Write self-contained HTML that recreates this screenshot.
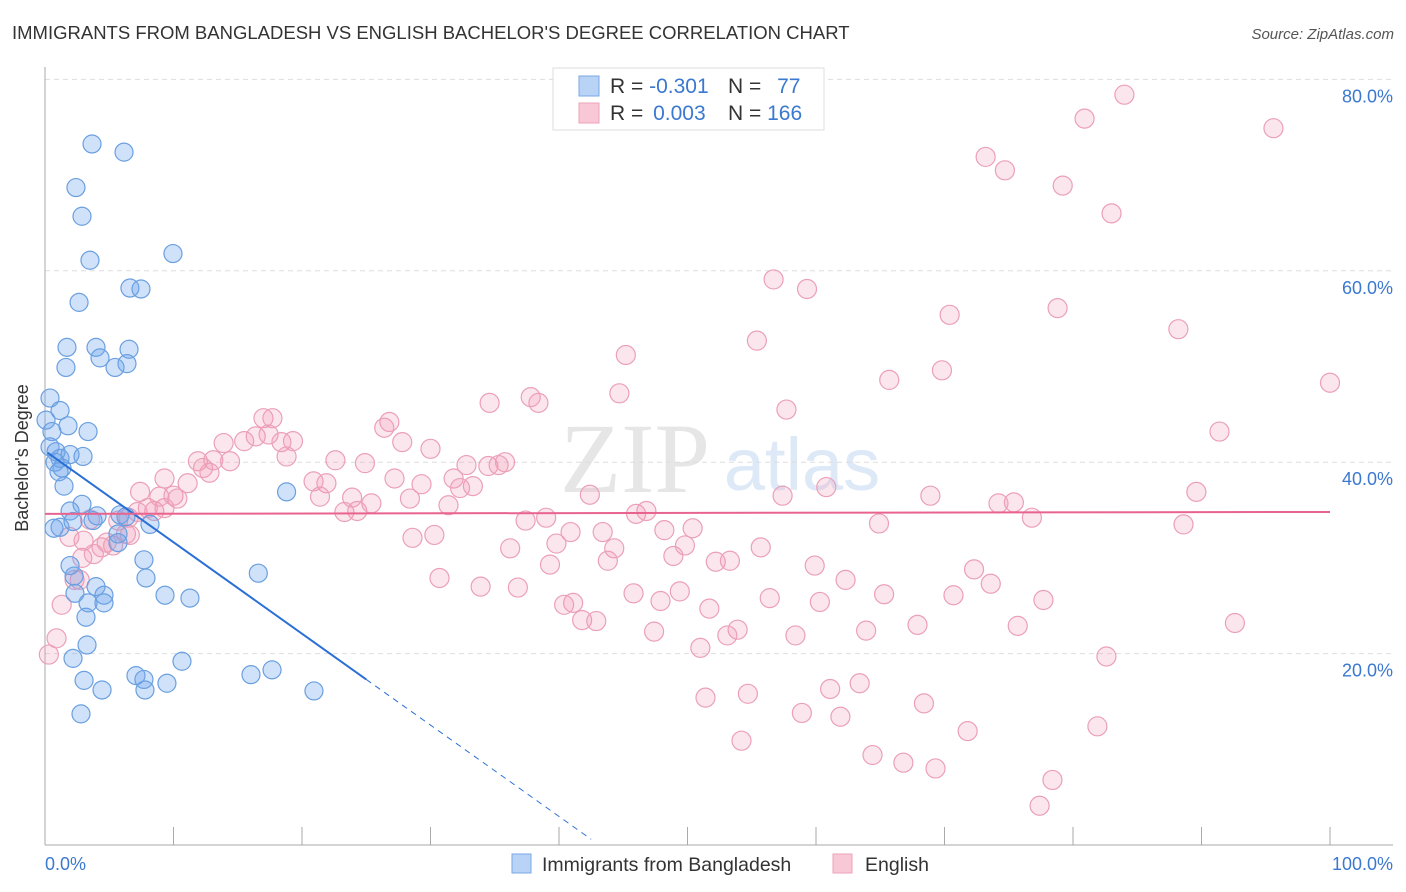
<!DOCTYPE html>
<html><head><meta charset="utf-8">
<style>
body{margin:0;background:#fff;font-family:"Liberation Sans",sans-serif;}
#wrap{position:relative;width:1406px;height:892px;overflow:hidden;}
</style></head>
<body>
<div id="wrap">
<svg id="svg" width="1406" height="892" xmlns="http://www.w3.org/2000/svg">
<text x="12" y="39" font-size="18.5" fill="#333">IMMIGRANTS FROM BANGLADESH VS ENGLISH BACHELOR'S DEGREE CORRELATION CHART</text>
<text x="1394" y="39" font-size="15" fill="#555" font-style="italic" text-anchor="end">Source: ZipAtlas.com</text>
<text x="635" y="492" font-size="100" fill="#e6e6e6" font-family="Liberation Serif,serif" text-anchor="middle">ZIP</text>
<text x="802" y="490" font-size="74" fill="#dde9f7" text-anchor="middle">atlas</text>
<g id="grid"></g>
<g id="axes"></g>
<g id="pts"></g>
<g id="lines"></g>
<text x="28" y="458" font-size="18" fill="#333" text-anchor="middle" transform="rotate(-90 28 458)">Bachelor's Degree</text>
<g>
<rect x="553" y="68" width="271" height="62" fill="#fff" stroke="#ddd"/>
<rect x="579" y="76" width="20" height="20" fill="#b8d3f5" stroke="#7aa8e6"/>
<rect x="579" y="103" width="20" height="20" fill="#f9c8d6" stroke="#eda3b9"/>
<text x="610" y="93" font-size="21" fill="#333">R = <tspan fill="#3b78d0">-0.301</tspan></text>
<text x="728" y="93" font-size="21" fill="#333">N = <tspan fill="#3b78d0" dx="10">77</tspan></text>
<text x="610" y="120" font-size="21" fill="#333">R = <tspan fill="#3b78d0" dx="4">0.003</tspan></text>
<text x="728" y="120" font-size="21" fill="#333">N = <tspan fill="#3b78d0">166</tspan></text>
</g>
<g>
<rect x="512" y="854" width="19" height="19" fill="#b8d3f5" stroke="#7aa8e6"/>
<text x="542" y="871" font-size="19.5" fill="#333">Immigrants from Bangladesh</text>
<rect x="833" y="854" width="19" height="19" fill="#f9c8d6" stroke="#eda3b9"/>
<text x="865" y="871" font-size="19.5" fill="#333">English</text>
</g>
</svg>
</div>
<script>
const yTicks=[20,40,60,80];
const yTickLabels=["20.0%","40.0%","60.0%","80.0%"];
const xTicks=[0,10,20,30,40,50,60,70,80,90,100];
const blueX=[3.66,6.15,2.41,2.88,3.5,9.96,2.65,6.61,7.47,1.71,3.97,6.54,4.28,1.63,5.45,6.38,0.39,1.17,0.08,1.79,3.35,0.54,0.39,0.86,1.17,1.95,0.78,1.32,2.96,1.48,1.09,2.88,1.95,1.17,0.7,2.18,3.74,4.05,5.84,6.3,8.17,5.68,5.68,18.8,7.7,7.86,16.6,1.95,2.26,3.97,2.33,4.59,3.35,4.59,3.19,9.34,11.28,3.27,2.18,10.66,3.04,4.44,7.08,7.7,7.78,9.49,16.03,17.67,20.93,2.8];
const blueY=[73.25,72.4,68.7,65.7,61.1,61.8,56.7,58.2,58.1,52,52,51.8,50.9,49.9,49.9,50.3,46.7,45.4,44.4,43.8,43.2,43.2,41.6,41.1,40.4,40.8,40,39.4,40.6,37.5,39,35.6,34.9,33.2,33.1,33.8,33.9,34.4,34.5,34.3,33.5,32.5,31.6,36.9,29.8,27.9,28.4,29.2,28.1,27,26.3,26.1,25.3,25.3,23.8,26.1,25.8,20.9,19.5,19.2,17.2,16.2,17.7,17.3,16.2,16.9,17.8,18.3,16.1,13.7];
const pinkX=[84,80.9,95.6,73.2,74.7,79.2,83,56.7,59.3,70.4,78.8,88.2,45.2,55.4,100,69.8,65.7,44.7,34.6,37.8,38.4,57.7,91.4,17,17.7,26.8,26.4,13.9,15.5,16.4,17.4,18.4,19.3,27.8,30,18.8,11.9,13.1,14.4,12.3,12.8,22.6,24.9,32.8,34.5,35.8,35.3,20.9,21.9,27.2,29.3,31.8,33.3,32.3,9.3,11.1,10,7.4,8.9,10.3,21.4,23.9,25.4,28.4,42.4,57.4,60.8,68.9,75.4,74.2,89.6,8,7.2,6.5,5.7,8.5,31.4,46,46.8,23.3,24.3,37.4,39,64.9,76.8,88.6,1.9,3,4.4,5.3,6.3,2.9,3.8,28.6,30.3,40.9,43.4,48.2,50.4,36.2,39.8,44.3,49.8,55.7,48.9,39.3,43.8,52.2,53.3,59.9,72.3,2.3,30.7,33.9,36.8,45.8,49.4,62.3,65.3,73.6,70.7,77.7,41.1,40.4,47.9,51.7,56.4,60.3,41.8,42.9,47.4,53.9,53.1,58.4,63.9,67.9,75.7,92.6,1.3,0.9,0.3,51,82.6,63.4,61.1,54.7,51.4,68.4,58.9,61.9,81.9,54.2,71.8,64.4,66.8,69.3,78.4,77.4,2.7,3.5,4.8,9.3,6.6];
const pinkY=[78.4,75.9,74.9,71.9,70.5,68.9,66,59.1,58.1,55.4,56.1,53.9,51.2,52.7,48.3,49.6,48.6,47.2,46.2,46.8,46.2,45.5,43.2,44.6,44.6,44.2,43.6,42,42.2,42.7,42.9,42.1,42.2,42.1,41.4,40.6,40.1,40.2,40.1,39.4,38.9,40.2,39.9,39.7,39.6,40,39.7,38,37.8,38.3,37.7,38.3,37.5,37.3,38.3,37.8,36.5,36.9,36.4,36.2,36.4,36.3,35.7,36.2,36.6,36.5,37.4,36.5,35.8,35.7,36.9,35.2,34.8,34.2,33.9,34.9,35.5,34.6,34.9,34.8,34.9,33.9,34.2,33.6,34.2,33.5,32.2,31.8,31.1,31.3,32.5,30,30.4,32.1,32.4,32.7,32.7,32.9,33.1,31,31.5,31,31.3,31.1,30.2,29.3,29.7,29.6,29.7,29.2,28.8,27.7,27.9,27,26.9,26.3,26.5,27.7,26.2,27.3,26.1,25.6,25.3,25.1,25.5,24.7,25.8,25.4,23.5,23.4,22.3,22.5,21.9,21.9,22.4,23,22.9,23.2,25.1,21.6,19.9,20.6,19.7,16.9,16.3,15.8,15.4,14.8,13.8,13.4,12.4,10.9,11.9,9.4,8.6,8,6.8,4.1,27.7,34,31.6,35.2,32.4];
const blueTrend=[0.2,41.0,25.0,17.3,42.5,0.6];
const pinkTrend=[0,34.6,100,34.8];

const NS="http://www.w3.org/2000/svg";
const X0=45,X1=1330,Y0=845,PXY=9.57;
function sx(v){return X0+(X1-X0)*v/100;}
function sy(v){return Y0-v*PXY;}
function mk(tag,attrs,parent){const e=document.createElementNS(NS,tag);for(const k in attrs)e.setAttribute(k,attrs[k]);document.getElementById(parent).appendChild(e);return e;}
yTicks.forEach((t,i)=>{
 const l=mk('line',{x1:X0,x2:1393,y1:sy(t),y2:sy(t),stroke:'#ddd','stroke-dasharray':'5,4'},'grid');
 
 
 const tx=mk('text',{x:1393,y:sy(t)+23,'font-size':18,fill:'#3b78d0','text-anchor':'end'},'axes');
 tx.textContent=yTickLabels[i];
 
 
});
const ya=mk('line',{x1:X0,x2:X0,y1:67,y2:Y0,stroke:'#aaa'},'axes');


const xa=mk('line',{x1:X0,x2:1393,y1:Y0,y2:Y0,stroke:'#aaa'},'axes');


xTicks.forEach(t=>{
 const l=mk('line',{x1:sx(t),x2:sx(t),y1:Y0-18,y2:Y0,stroke:'#aaa'},'axes');
 
 
});
const xl0=mk('text',{x:45,y:870,'font-size':18,fill:'#3b78d0'},'axes');xl0.textContent='0.0%';


const xl1=mk('text',{x:1393,y:870,'font-size':18,fill:'#3b78d0','text-anchor':'end'},'axes');xl1.textContent='100.0%';


pinkX.forEach((v,i)=>{
 const c=mk('circle',{cx:sx(v),cy:sy(pinkY[i]),r:9.5,fill:'rgba(244,150,180,0.24)',stroke:'#eba0b8','stroke-width':1.2},'pts');
 
 
});
blueX.forEach((v,i)=>{
 const c=mk('circle',{cx:sx(v),cy:sy(blueY[i]),r:9,fill:'rgba(110,165,235,0.32)',stroke:'#6a9fe0','stroke-width':1.2},'pts');
 
 
});
const bl=mk('line',{x1:sx(blueTrend[0]),y1:sy(blueTrend[1]),x2:sx(blueTrend[2]),y2:sy(blueTrend[3]),stroke:'#2a6fd6','stroke-width':2},'lines');


const bd=mk('line',{x1:sx(blueTrend[2]),y1:sy(blueTrend[3]),x2:sx(blueTrend[4]),y2:sy(blueTrend[5]),stroke:'#2a6fd6','stroke-width':1,'stroke-dasharray':'6,5'},'lines');


const pl=mk('line',{x1:sx(pinkTrend[0]),y1:sy(pinkTrend[1]),x2:sx(pinkTrend[2]),y2:sy(pinkTrend[3]),stroke:'#e8648f','stroke-width':2},'lines');


</script>
</body></html>
